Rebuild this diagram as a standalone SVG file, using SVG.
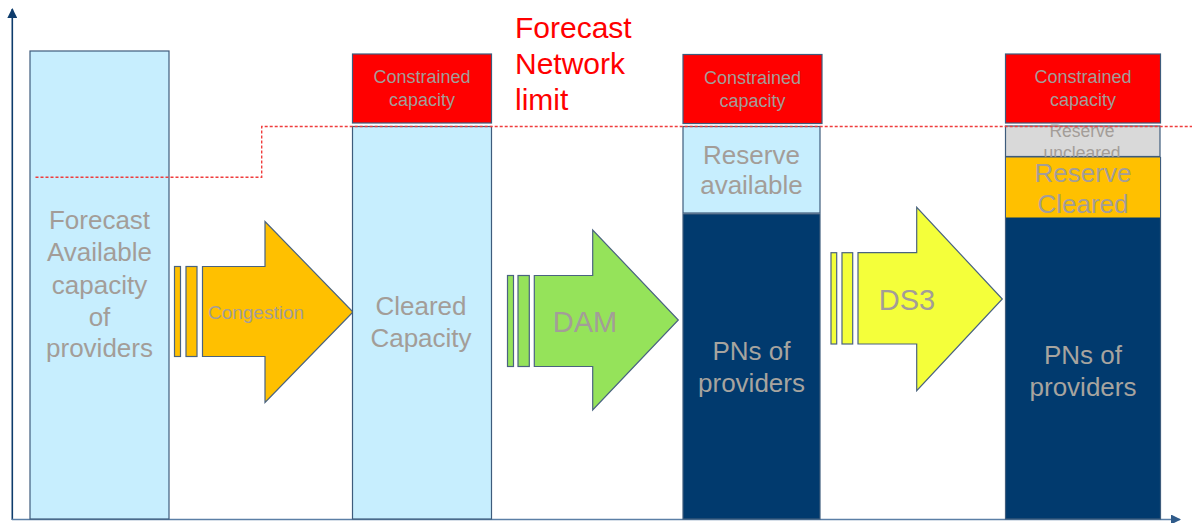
<svg xmlns="http://www.w3.org/2000/svg" width="1192" height="523" viewBox="0 0 1192 523">
  <style>
    .box { stroke: #3e5c7c; stroke-width: 1.2; }
    .lightblue { fill: #c7eefe; }
    .navy { fill: #013a6e; }
    .red { fill: #ff0000; }
    .lbl { font-family: "Liberation Sans", Arial, sans-serif; fill: #a39d98; text-anchor: middle; }
    .big { font-size: 26px; }
    .small { font-size: 18px; }
    .arrow { stroke: #4a6380; stroke-width: 1.2; stroke-linejoin: miter; }
    .limit { fill: none; stroke: #f03c3c; stroke-width: 1.4; stroke-dasharray: 3 2; }
  </style>
  <defs>
    <marker id="axisHead" viewBox="0 0 10 10" refX="9" refY="5" markerWidth="10" markerHeight="10" markerUnits="userSpaceOnUse" orient="auto">
      <path d="M0,0 L10,5 L0,10 Z" fill="#0e3c6c"/>
    </marker>
    <marker id="axisHeadX" viewBox="0 0 10 10" refX="9" refY="5" markerWidth="10" markerHeight="10" markerUnits="userSpaceOnUse" orient="auto">
      <path d="M0,0 L10,5 L0,10 Z" fill="#2f5b8a"/>
    </marker>
    <!-- the uncleared-reserve label is cut to its own thin band -->
    <clipPath id="unclearedBand">
      <rect x="1005" y="124.5" width="156" height="32.5"/>
    </clipPath>
  </defs>

  <rect width="1192" height="523" fill="#ffffff"/>

  <!-- axes -->
  <g id="axes">
    <line x1="12.3" y1="520" x2="12.3" y2="9" stroke="#0e3c6c" stroke-width="1.6" marker-end="url(#axisHead)"/>
    <line x1="12" y1="519.5" x2="1180" y2="519.5" stroke="#5b7fa6" stroke-width="1.6" marker-end="url(#axisHeadX)"/>
  </g>

  <!-- forecast available capacity column -->
  <g id="forecast-available">
    <rect class="box lightblue" x="30" y="51" width="139" height="468"/>
    <text class="lbl big"><tspan x="99.5" y="228.5">Forecast</tspan><tspan x="99.5" y="261">Available</tspan><tspan x="99.5" y="293.5">capacity</tspan><tspan x="99.5" y="325.5">of</tspan><tspan x="99.5" y="357">providers</tspan></text>
  </g>

  <!-- congestion step -->
  <g id="congestion">
    <rect class="arrow" x="174.5" y="266.5" width="6" height="90" fill="#ffc000"/>
    <rect class="arrow" x="186" y="266.5" width="11" height="90" fill="#ffc000"/>
    <path class="arrow" d="M202.5,266.5 H265 V221.5 L353,312 L265,402.5 V356.5 H202.5 Z" fill="#ffc000"/>
    <text class="lbl" x="256" y="319" style="font-size:19px">Congestion</text>
  </g>

  <!-- cleared capacity column -->
  <g id="cleared-capacity">
    <rect class="box red" x="352.5" y="54" width="139" height="69"/>
    <text class="lbl small"><tspan x="422" y="83">Constrained</tspan><tspan x="422" y="105.5">capacity</tspan></text>
    <rect class="box lightblue" x="352.5" y="126.5" width="139" height="392.5"/>
    <text class="lbl big"><tspan x="421" y="315">Cleared</tspan><tspan x="421" y="347">Capacity</tspan></text>
  </g>

  <!-- DAM step -->
  <g id="dam">
    <rect class="arrow" x="507.5" y="275.5" width="6" height="91" fill="#95e35a"/>
    <rect class="arrow" x="518" y="275.5" width="11.3" height="91" fill="#95e35a"/>
    <path class="arrow" d="M534.3,275.5 H592.7 V230 L678.3,320 L592.7,410 V366.5 H534.3 Z" fill="#95e35a"/>
    <text class="lbl" x="585" y="331.5" style="font-size:29px">DAM</text>
  </g>

  <!-- day-ahead column -->
  <g id="day-ahead">
    <rect class="box red" x="683" y="54.5" width="139" height="69"/>
    <text class="lbl small"><tspan x="752.5" y="84">Constrained</tspan><tspan x="752.5" y="106.5">capacity</tspan></text>
    <rect class="box lightblue" x="683" y="126.5" width="137" height="86.5"/>
    <text class="lbl big"><tspan x="751.5" y="163.5">Reserve</tspan><tspan x="751.5" y="194">available</tspan></text>
    <rect class="box navy" x="683" y="214" width="137" height="305"/>
    <text class="lbl big" style="fill:#a7a49f"><tspan x="751.5" y="360">PNs of</tspan><tspan x="751.5" y="391.5">providers</tspan></text>
  </g>

  <!-- DS3 step -->
  <g id="ds3">
    <rect class="arrow" x="831" y="252.7" width="5.7" height="91.3" fill="#f4ff3a"/>
    <rect class="arrow" x="842" y="252.7" width="10.7" height="91.3" fill="#f4ff3a"/>
    <path class="arrow" d="M858,252.7 H916.7 V207.3 L1002.3,299 L916.7,390.7 V344 H858 Z" fill="#f4ff3a"/>
    <text class="lbl" x="907" y="309.5" style="font-size:29px">DS3</text>
  </g>

  <!-- intraday column -->
  <g id="intraday">
    <rect class="box red" x="1005.5" y="54" width="155" height="69"/>
    <text class="lbl small"><tspan x="1083" y="83">Constrained</tspan><tspan x="1083" y="105.5">capacity</tspan></text>
    <rect class="box" x="1005.5" y="126" width="154.5" height="30.5" fill="#d9d9d9"/>
    <text class="lbl" style="font-size:17.5px" clip-path="url(#unclearedBand)"><tspan x="1082" y="137">Reserve</tspan><tspan x="1082" y="158.5">uncleared</tspan></text>
    <rect class="box navy" x="1005.5" y="157.5" width="155" height="361.5"/>
    <rect x="1006" y="157.5" width="154" height="60" fill="#ffc000"/>
    <text class="lbl big"><tspan x="1083" y="182">Reserve</tspan><tspan x="1083" y="213">Cleared</tspan></text>
    <text class="lbl big" style="fill:#a7a49f"><tspan x="1083" y="364">PNs of</tspan><tspan x="1083" y="395.5">providers</tspan></text>
  </g>

  <!-- network limit -->
  <g id="network-limit">
    <path class="limit" d="M35.5,177.3 H261.7 V126.5 H1192"/>
    <text x="515" y="37.5" font-family="'Liberation Sans', Arial, sans-serif" font-size="30" fill="#ff0000"><tspan x="515" y="37.5">Forecast</tspan><tspan x="515" y="73.5">Network</tspan><tspan x="515" y="109.8">limit</tspan></text>
  </g>
</svg>
